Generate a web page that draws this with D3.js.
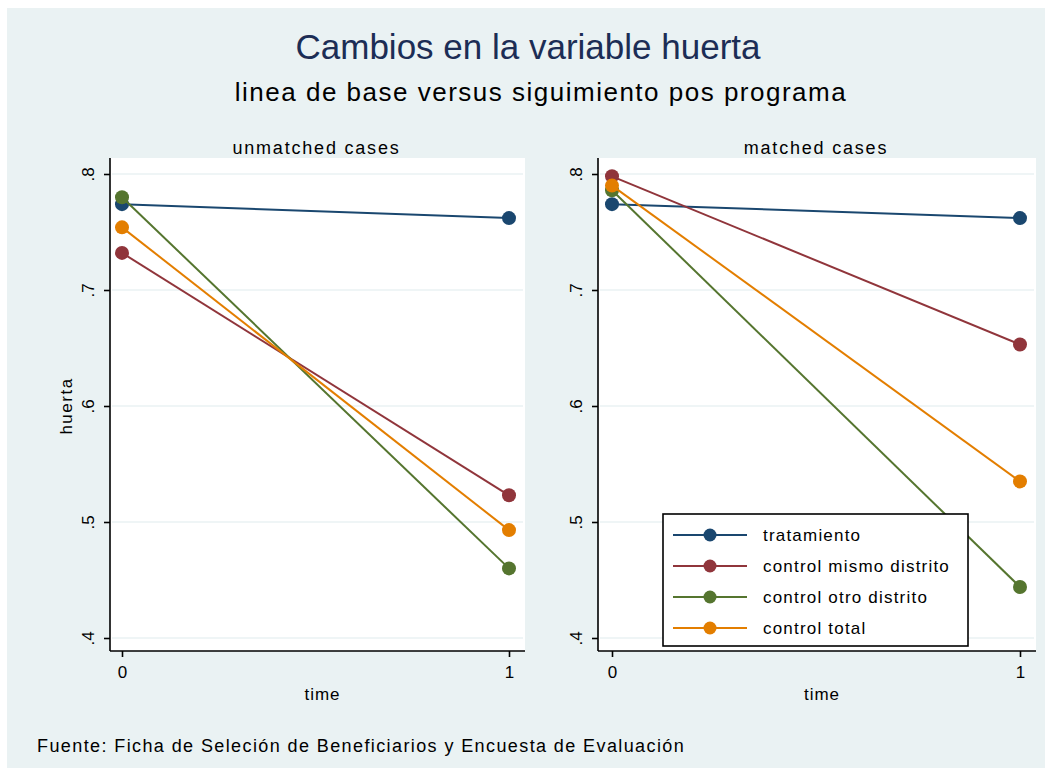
<!DOCTYPE html>
<html>
<head>
<meta charset="utf-8">
<script src="https://cdn.jsdelivr.net/npm/d3@7"></script>
<style>
  html, body { margin: 0; padding: 0; background: #ffffff; }
  svg { display: block; font-family: "Liberation Sans", Arial, sans-serif; }
</style>
</head>
<body>
<svg id="chart" width="1050" height="773"></svg>
<script>
// ---- data ----
const times = [0, 1];
const xTickLabels = ["0", "1"];
const yTicks = [0.4, 0.5, 0.6, 0.7, 0.8];
const yTickLabels = [".4", ".5", ".6", ".7", ".8"];
const seriesNames = ["tratamiento", "control mismo distrito", "control otro distrito", "control total"];
const seriesColors = ["#1A476F", "#90353B", "#55752F", "#E37E00"];
const panelTitles = ["unmatched cases", "matched cases"];

// unmatched cases
const unmatchedTratamiento = [0.774, 0.762];
const unmatchedMismo = [0.732, 0.523];
const unmatchedOtro = [0.780, 0.460];
const unmatchedTotal = [0.754, 0.493];
// matched cases
const matchedTratamiento = [0.774, 0.762];
const matchedMismo = [0.798, 0.653];
const matchedOtro = [0.786, 0.444];
const matchedTotal = [0.790, 0.535];

const titleText = "Cambios en la variable huerta";
const subtitleText = "linea de base versus siguimiento pos programa";
const yAxisTitle = "huerta";
const xAxisTitle = "time";
const noteText = "Fuente: Ficha de Seleción de Beneficiarios y Encuesta de Evaluación";

const panels = [
  { title: panelTitles[0], series: [unmatchedTratamiento, unmatchedMismo, unmatchedOtro, unmatchedTotal],
    left: 110, right: 525, x0: 122, x1: 509, yTitle: true },
  { title: panelTitles[1], series: [matchedTratamiento, matchedMismo, matchedOtro, matchedTotal],
    left: 598, right: 1036, x0: 612, x1: 1020, yTitle: false }
];

// ---- drawing ----
const svg = d3.select("#chart");
const bg = "#EAF2F3";
svg.append("rect").attr("x", 7).attr("y", 8).attr("width", 1038).attr("height", 760).attr("fill", bg);

svg.append("text").attr("x", 528).attr("y", 59).attr("text-anchor", "middle")
  .attr("font-size", 35).attr("fill", "#1C2D55").text(titleText);
svg.append("text").attr("x", 541).attr("y", 101).attr("text-anchor", "middle")
  .attr("font-size", 26).attr("fill", "#000").attr("letter-spacing", 1.5).text(subtitleText);

const plotTop = 158, plotBottom = 651;
const y = d3.scaleLinear().domain([0.4, 0.8]).range([638, 174]);

panels.forEach(p => {
  const x = d3.scaleLinear().domain([0, 1]).range([p.x0, p.x1]);
  const g = svg.append("g");
  g.append("rect").attr("x", p.left).attr("y", plotTop).attr("width", p.right - p.left)
    .attr("height", plotBottom - plotTop).attr("fill", "#ffffff");
  // gridlines
  g.selectAll(".grid").data(yTicks).enter().append("line")
    .attr("x1", p.left + 2).attr("x2", p.right - 2)
    .attr("y1", d => y(d)).attr("y2", d => y(d))
    .attr("stroke", bg).attr("stroke-width", 1.5);

  // y axis
  const yAxis = d3.axisLeft(y).tickValues(yTicks).tickFormat((d, i) => yTickLabels[i]).tickSize(6).tickPadding(4);
  const ya = g.append("g").attr("transform", `translate(${p.left},0)`).call(yAxis);
  ya.select(".domain").attr("d", `M0,${plotTop}V${plotBottom}`).attr("stroke", "#000").attr("stroke-width", 1.6);
  ya.selectAll(".tick line").attr("stroke", "#000").attr("stroke-width", 1.6);
  ya.selectAll(".tick text").attr("font-size", 17).attr("font-family", "Liberation Sans, Arial, sans-serif")
    .attr("fill", "#000").attr("text-anchor", "middle").attr("dy", null)
    .attr("transform", "translate(-22,0) rotate(-90)").attr("x", 0).attr("y", 6);

  // x axis
  const xAxis = d3.axisBottom(x).tickValues(times).tickFormat((d, i) => xTickLabels[i]).tickSize(6).tickPadding(9);
  const xa = g.append("g").attr("transform", `translate(0,${plotBottom})`).call(xAxis);
  xa.select(".domain").attr("d", `M${p.left},0H${p.right}`).attr("stroke", "#000").attr("stroke-width", 1.6);
  xa.selectAll(".tick line").attr("stroke", "#000").attr("stroke-width", 1.6);
  xa.selectAll(".tick text").attr("font-size", 17).attr("font-family", "Liberation Sans, Arial, sans-serif").attr("fill", "#000");

  const cx = (p.left + p.right) / 2;
  g.append("text").attr("x", cx + 5).attr("y", 700).attr("text-anchor", "middle")
    .attr("font-size", 17).attr("letter-spacing", 1).text(xAxisTitle);
  g.append("text").attr("x", (p.left + p.right) / 2 - 1).attr("y", 154).attr("text-anchor", "middle")
    .attr("font-size", 18).attr("letter-spacing", 1.8).text(p.title);
  if (p.yTitle) {
    g.append("text").attr("transform", `translate(72,${y(0.6)}) rotate(-90)`).attr("text-anchor", "middle")
      .attr("font-size", 17).attr("letter-spacing", 1.5).text(yAxisTitle);
  }

  // series
  p.series.forEach((vals, si) => {
    const pts = times.map((t, i) => [x(t), y(vals[i])]);
    g.append("path").attr("d", d3.line()(pts)).attr("fill", "none")
      .attr("stroke", seriesColors[si]).attr("stroke-width", 2);
    g.selectAll(null).data(times).enter().append("circle")
      .attr("cx", t => x(t)).attr("cy", (t, i) => y(vals[i])).attr("r", 7)
      .attr("fill", seriesColors[si]);
  });
});

// legend
const lg = svg.append("g");
lg.append("rect").attr("x", 663).attr("y", 514).attr("width", 305).attr("height", 132)
  .attr("fill", "#fff").attr("stroke", "#000").attr("stroke-width", 1.6);
seriesNames.forEach((name, i) => {
  const yy = 535 + i * 31;
  lg.append("line").attr("x1", 673).attr("x2", 747).attr("y1", yy).attr("y2", yy)
    .attr("stroke", seriesColors[i]).attr("stroke-width", 2);
  lg.append("circle").attr("cx", 710).attr("cy", yy).attr("r", 6.5).attr("fill", seriesColors[i]);
  lg.append("text").attr("x", 763).attr("y", yy + 6).attr("font-size", 17).attr("letter-spacing", 1.2).text(name);
});

// note
svg.append("text").attr("x", 37).attr("y", 752).attr("font-size", 18).attr("letter-spacing", 1.4).text(noteText);
</script>
</body>
</html>
